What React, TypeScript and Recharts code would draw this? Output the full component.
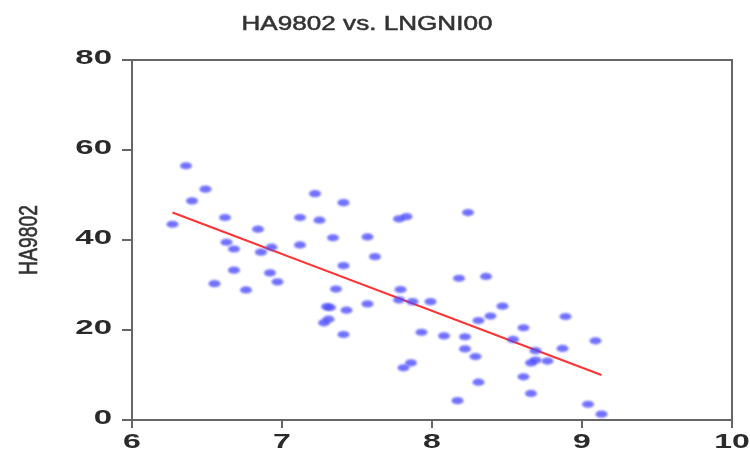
import { ScatterChart, Scatter, XAxis, YAxis, ReferenceLine, ReferenceArea } from "recharts";

const xVals = [
  6.36, 6.49, 6.4, 6.27, 6.62, 6.84, 6.63, 6.68, 6.86, 6.93,
  6.68, 6.55, 6.76, 6.92, 6.97, 7.12, 7.22, 7.25, 7.41, 7.12,
  7.34, 7.57, 7.62, 7.41, 7.36, 7.3, 7.32, 7.43, 7.28, 7.31,
  7.41, 7.57, 7.78, 7.83, 7.79, 7.78, 7.87, 7.99, 7.93, 7.81,
  7.86, 8.24, 8.18, 8.36, 8.47, 8.39, 8.31, 8.89, 8.61, 8.08,
  8.22, 8.54, 8.22, 8.29, 8.69, 8.87, 9.09, 8.66, 8.69, 8.77,
  8.61, 8.31, 8.66, 8.17, 9.04, 9.13,
];
const yVals = [
  56.5, 51.3, 48.7, 43.5, 45.0, 42.4, 39.5, 38.0, 37.3, 38.4,
  33.3, 30.3, 28.9, 32.7, 30.7, 45.0, 50.3, 44.4, 48.3, 38.9,
  40.5, 40.7, 36.3, 34.3, 29.1, 25.2, 25.0, 24.4, 21.6, 22.4,
  19.0, 25.8, 44.7, 45.2, 29.0, 26.7, 26.3, 26.3, 19.5, 11.6,
  12.7, 46.1, 31.5, 31.9, 25.3, 23.1, 22.1, 23.0, 20.5, 18.7,
  18.5, 17.9, 15.8, 14.1, 15.4, 15.9, 17.6, 12.7, 13.3, 13.1,
  9.6, 8.4, 5.9, 4.3, 3.5, 1.3,
];
// fitted line end points
const fitStart = { x: 6.27, y: 46.1 };
const fitEnd = { x: 9.13, y: 10.0 };

const xTicks = [6, 7, 8, 9, 10];
const yTicks = [0, 20, 40, 60, 80];

const points = xVals.map((x, i) => ({ x, y: yVals[i] }));

const Dot = (props: any) => (
  <ellipse
    cx={props.cx}
    cy={props.cy}
    rx={6}
    ry={3.6}
    fill="#4d4dff"
    fillOpacity={0.8}
    style={{ filter: "blur(0.9px)" }}
  />
);

const XTick = (props: any) => (
  <text
    transform={`translate(${props.x},${props.y + 18}) scale(1.6,1)`}
    textAnchor="middle"
    fontFamily="Liberation Sans, Arial, sans-serif"
    fontWeight="bold"
    fontSize={20}
    fill="#2a2a2a"
  >
    {props.payload.value}
  </text>
);

const YTick = (props: any) => (
  <text
    transform={`translate(${props.x},${props.y + 4}) scale(1.65,1)`}
    textAnchor="end"
    fontFamily="Liberation Sans, Arial, sans-serif"
    fontWeight="bold"
    fontSize={20}
    fill="#2a2a2a"
  >
    {props.payload.value}
  </text>
);

export default function App() {
  return (
    <div style={{ position: "absolute", left: 0, top: 0, width: 750, height: 452, background: "#fff", filter: "blur(0.4px)" }}>
      <svg width={750} height={452} style={{ position: "absolute", left: 0, top: 0 }}>
        <text
          x={367}
          y={30}
          textAnchor="middle"
          fontFamily="Liberation Sans, Arial, sans-serif"
          fontSize={20}
          textLength={251}
          lengthAdjust="spacingAndGlyphs"
          fill="#333"
          stroke="#333"
          strokeWidth={0.5}
        >
          HA9802 vs. LNGNI00
        </text>
        <text
          transform="translate(37,240) rotate(-90) scale(1,1.55)"
          textAnchor="middle"
          fontFamily="Liberation Sans, Arial, sans-serif"
          fontSize={17}
          textLength={70}
          lengthAdjust="spacingAndGlyphs"
          fill="#333"
          stroke="#333"
          strokeWidth={0.4}
        >
          HA9802
        </text>
      </svg>
      <div style={{ position: "absolute", left: 0, top: 0 }}>
        <ScatterChart width={750} height={452} margin={{ top: 60, right: 18, bottom: 0, left: 72 }}>
          <XAxis
            type="number"
            dataKey="x"
            domain={[6, 10]}
            ticks={xTicks}
            height={32}
            tickSize={8}
            tickMargin={2}
            tick={<XTick />}
            stroke="#666"
            strokeWidth={2}
            allowDataOverflow
          />
          <YAxis
            type="number"
            dataKey="y"
            domain={[0, 80]}
            ticks={yTicks}
            width={60}
            tickSize={10}
            tickMargin={10}
            tick={<YTick />}
            stroke="#666"
            strokeWidth={2}
            allowDataOverflow
          />
          <ReferenceArea x1={6} x2={10} y1={0} y2={80} fill="none" stroke="#666" strokeWidth={2} />
          <Scatter data={points} shape={<Dot />} isAnimationActive={false} />
          <ReferenceLine
            segment={[fitStart, fitEnd]}
            stroke="#ff3333"
            strokeWidth={2}
          />
        </ScatterChart>
      </div>
    </div>
  );
}
